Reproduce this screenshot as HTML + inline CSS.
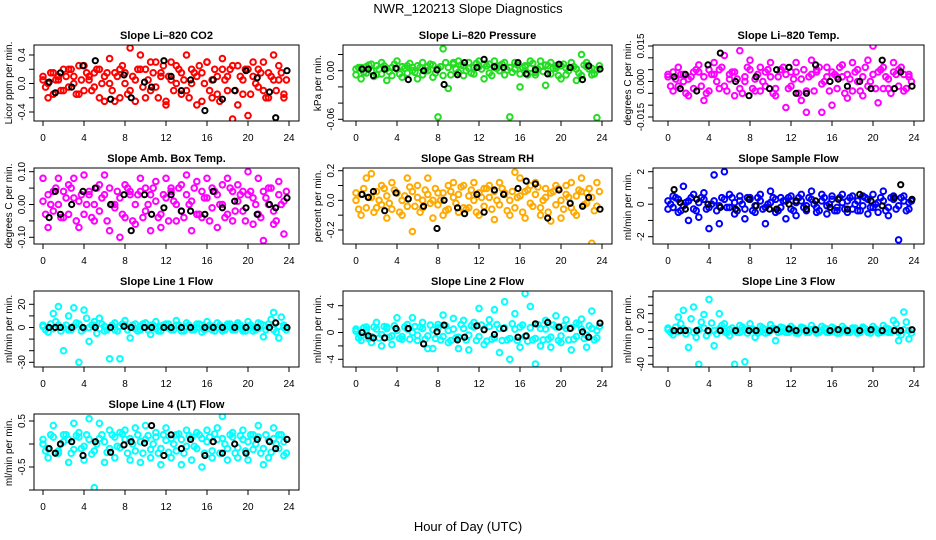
<!DOCTYPE html>
<html><head><meta charset="utf-8"><style>
html,body{margin:0;padding:0;background:#fff;}
svg{display:block;font-family:"Liberation Sans",Arial,sans-serif;}
</style></head><body>
<svg id="chart" width="936" height="540" viewBox="0 0 936 540" xmlns="http://www.w3.org/2000/svg">
<rect x="0" y="0" width="936" height="540" fill="#fff"/>
<text x="468" y="13" text-anchor="middle" font-size="13">NWR_120213  Slope Diagnostics</text>
<text x="468" y="531" text-anchor="middle" font-size="13">Hour of Day (UTC)</text>
</svg>
<script>
// shared x data
const hours = [0,0.5,1,1.5,2,2.5,3,3.5,4,4.5,5,5.5,6,6.5,7,7.5,8,8.5,9,9.5,10,10.5,11,11.5,12,12.5,13,13.5,14,14.5,15,15.5,16,16.5,17,17.5,18,18.5,19,19.5,20,20.5,21,21.5,22,22.5,23,23.5];
const hoursMid = [0.25,0.75,1.25,1.75,2.25,2.75,3.25,3.75,4.25,4.75,5.25,5.75,6.25,6.75,7.25,7.75,8.25,8.75,9.25,9.75,10.25,10.75,11.25,11.75,12.25,12.75,13.25,13.75,14.25,14.75,15.25,15.75,16.25,16.75,17.25,17.75,18.25,18.75,19.25,19.75,20.25,20.75,21.25,21.75,22.25,22.75,23.25,23.75];
const blackHours = [0.6,1.2,1.7,2.8,3.9,5.1,6.6,7.9,8.6,9.9,10.6,11.8,12.5,13.5,14.4,15.8,16.6,17.5,18.7,19.8,20.9,22.1,22.7,23.8];
const xTicks = [0,4,8,12,16,20,24];

const co2A = [0.05,-0.2,0.15,0.1,-0.1,0.2,0.0,-0.15,0.25,0.1,-0.05,0.2,-0.25,0.35,0.15,-0.2,0.0,0.5,-0.25,0.4,0.2,-0.1,0.3,0.1,-0.25,0.3,0.0,-0.15,0.4,0.2,-0.3,0.15,0.3,-0.2,0.1,0.35,-0.1,-0.5,0.25,0.05,-0.45,0.3,0.2,-0.1,0.15,0.4,0.05,-0.2];
const co2B = [0.1,0.0,-0.15,0.05,0.2,-0.05,0.1,0.25,-0.1,0.05,0.15,-0.2,0.1,0.0,-0.25,0.2,0.15,-0.1,0.05,0.2,-0.2,0.3,-0.05,0.15,-0.3,0.05,0.25,0.15,-0.1,0.0,0.1,-0.25,0.3,0.05,-0.15,0.2,0.1,0.25,-0.3,-0.15,0.2,0.1,-0.05,0.3,-0.2,0.05,0.25,-0.15];
const co2C = [-0.05,0.15,0.05,-0.1,0.1,0.2,-0.15,0.05,0.15,-0.1,0.2,0.0,0.15,-0.1,0.1,0.25,-0.15,0.1,0.2,-0.05,0.05,0.15,-0.2,0.25,0.1,-0.1,0.2,0.05,-0.2,0.15,0.25,0.0,-0.1,0.2,-0.25,0.05,0.2,-0.1,0.1,0.2,-0.15,0.0,0.15,-0.2,0.1,-0.1,0.15,0.05];
const co2K = [0.02,-0.13,0.15,-0.05,0.25,0.32,-0.22,0.12,-0.2,0.02,-0.05,0.32,0.1,-0.1,0.05,-0.38,0.05,-0.22,-0.1,0.18,0.08,-0.12,-0.48,0.18];

const presA = [0.002,-0.01,0.005,0.008,-0.005,0.01,-0.012,0.004,0.012,-0.008,0.006,0.0,-0.01,0.01,0.005,-0.008,-0.057,0.027,-0.022,0.01,0.012,-0.006,0.01,0.004,0.012,-0.01,0.008,0.012,0.0,0.01,-0.057,0.01,-0.02,0.005,0.012,-0.005,0.012,-0.018,0.01,0.006,-0.01,0.003,0.01,-0.012,0.02,0.01,-0.005,-0.058];
const presB = [-0.005,0.004,-0.003,0.0,0.006,-0.004,0.003,-0.006,0.002,0.005,-0.003,0.004,0.006,-0.005,0.0,0.007,0.003,-0.006,0.004,0.008,-0.002,0.006,0.003,-0.004,0.005,0.008,-0.003,0.004,0.006,-0.005,0.004,0.002,-0.004,0.006,0.003,-0.002,0.005,0.007,-0.004,0.003,0.006,-0.005,0.004,0.002,-0.006,0.005,0.003,0.001];
const presC = [0.004,-0.002,0.007,-0.007,0.002,0.006,-0.001,0.008,-0.004,0.003,0.009,-0.002,0.004,0.0,0.008,-0.003,0.005,0.01,-0.005,0.002,0.007,0.0,-0.003,0.009,0.002,0.006,-0.006,0.003,0.008,0.001,-0.002,0.007,0.004,-0.005,0.009,0.002,-0.001,0.006,0.003,-0.006,0.008,0.0,0.005,-0.003,0.007,0.002,-0.004,0.006];
const presK = [0.002,0.002,-0.006,0.002,0.003,-0.011,0.0,0.001,-0.017,-0.005,0.01,0.004,0.014,0.005,0.004,0.01,-0.004,0.001,-0.004,0.008,0.004,-0.011,0.006,0.002];

const tempA = [0.003,-0.004,0.006,0.0,-0.006,0.004,0.007,-0.008,0.005,0.008,-0.003,0.011,0.003,-0.006,0.013,0.0,0.009,-0.004,0.006,-0.002,0.008,-0.006,0.005,-0.011,0.004,0.008,-0.008,-0.013,0.009,0.004,-0.013,0.006,-0.01,0.002,0.007,-0.007,0.008,0.0,-0.006,0.009,0.015,-0.009,0.006,-0.003,0.008,0.005,-0.004,0.003];
const tempB = [0.002,0.004,-0.002,0.003,0.001,-0.003,0.004,0.002,-0.004,0.003,0.005,-0.002,0.001,0.004,-0.003,0.002,0.005,0.001,-0.004,0.004,0.002,-0.003,0.005,0.003,-0.002,0.004,0.001,-0.004,0.003,0.005,-0.001,0.002,0.004,-0.003,0.002,0.003,-0.004,0.005,0.002,-0.002,0.003,0.004,-0.003,0.001,0.004,-0.002,0.003,0.002];
const tempC = [-0.002,0.001,0.003,-0.005,0.002,0.005,-0.002,-0.005,0.003,0.0,0.006,-0.004,0.004,0.001,-0.005,0.006,-0.003,0.003,0.0,0.005,-0.005,0.002,0.006,-0.003,0.001,-0.005,0.005,0.002,-0.004,0.006,0.0,-0.004,0.003,0.006,-0.005,0.001,0.004,-0.004,0.006,0.0,-0.003,0.005,0.002,-0.005,0.003,0.006,-0.003,0.0];
const tempK = [0.002,-0.003,0.003,-0.004,0.007,0.012,0.0,-0.006,0.002,-0.003,0.005,0.006,-0.005,-0.005,0.007,0.0,0.001,-0.002,0.0,-0.003,0.009,-0.003,0.004,-0.002];

const ambA = [0.08,-0.07,0.04,0.08,-0.04,0.06,0.08,-0.07,0.09,0.03,-0.05,0.06,0.09,-0.08,0.0,-0.1,0.06,0.04,-0.06,0.08,0.05,-0.08,0.07,-0.07,0.08,0.05,-0.05,0.06,0.09,-0.08,0.07,-0.04,0.08,0.05,-0.07,0.06,0.08,-0.05,0.06,0.04,0.1,-0.06,0.08,-0.11,0.05,-0.06,0.07,-0.09];
const ambB = [0.01,0.03,-0.02,0.0,0.04,-0.03,0.02,0.01,-0.03,0.04,0.0,-0.02,0.03,0.05,-0.01,0.02,-0.04,0.03,0.0,0.04,-0.02,0.03,0.01,-0.03,0.02,0.04,0.0,-0.02,0.03,0.01,-0.03,0.04,0.02,-0.01,0.03,0.0,-0.03,0.04,0.01,-0.02,0.03,0.02,-0.03,0.04,0.0,-0.02,0.03,0.01];
const ambC = [-0.03,0.0,0.05,-0.04,0.02,0.05,-0.05,0.03,0.0,-0.04,0.05,0.02,-0.05,0.0,0.04,-0.03,0.05,-0.05,0.03,-0.04,0.0,0.05,-0.04,0.03,-0.05,0.01,0.05,-0.04,0.0,0.05,-0.03,0.02,-0.05,0.04,0.0,-0.04,0.05,-0.02,0.03,-0.05,0.04,0.0,-0.04,0.02,0.05,-0.05,0.0,0.04];
const ambK = [-0.04,0.04,-0.03,0.0,0.04,0.05,0.0,0.03,-0.08,0.03,-0.03,-0.01,0.03,-0.02,-0.02,-0.03,0.04,-0.01,0.01,-0.01,-0.03,0.0,-0.01,0.02];

const rhA = [0.05,-0.1,0.15,0.18,-0.05,0.1,-0.12,0.12,0.05,-0.1,0.15,-0.21,0.1,0.0,0.15,-0.12,0.05,-0.1,0.1,0.12,-0.08,0.1,-0.05,0.12,-0.1,0.08,0.1,-0.13,0.12,0.05,-0.1,0.19,0.15,-0.12,0.1,0.12,-0.1,0.08,-0.14,0.1,-0.12,0.1,0.12,-0.1,0.15,0.05,-0.29,0.12];
const rhB = [0.0,0.04,-0.05,0.02,0.06,-0.03,0.03,-0.06,0.05,0.0,-0.04,0.06,0.02,-0.05,0.04,0.0,-0.03,0.05,-0.06,0.02,0.04,-0.05,0.03,0.0,0.05,-0.04,0.02,0.06,-0.03,0.04,0.0,-0.05,0.03,0.06,-0.02,0.04,-0.05,0.02,0.05,-0.03,0.0,0.04,-0.05,0.03,0.06,-0.02,0.02,-0.04];
const rhC = [-0.06,0.08,0.02,-0.08,0.0,0.08,-0.02,0.07,-0.08,0.03,0.09,-0.04,-0.08,0.07,-0.02,0.08,0.0,-0.07,0.06,-0.02,0.09,-0.06,0.07,-0.08,0.02,0.08,-0.06,0.0,0.08,-0.07,0.06,0.02,-0.08,0.07,-0.04,0.09,0.0,-0.08,0.06,0.08,-0.06,0.02,-0.08,0.07,-0.03,0.08,-0.07,0.06];
const rhK = [0.04,0.02,0.06,-0.07,0.05,0.01,-0.04,-0.19,0.0,-0.05,-0.09,0.04,-0.08,0.07,0.04,0.08,0.13,0.11,-0.12,0.07,-0.02,-0.04,0.02,-0.06];

const sfA = [-0.3,0.5,-0.5,1.1,-1.0,0.6,-0.8,0.7,-1.5,1.8,-1.2,2.0,0.6,-0.6,0.5,-0.9,0.4,-0.5,0.6,-1.2,0.8,-0.5,0.4,-0.9,0.5,-0.7,0.6,-0.4,0.8,-0.5,0.6,-0.6,0.5,-0.4,0.6,-0.5,0.5,-0.4,0.5,-0.6,0.6,-0.5,0.8,-0.7,0.5,-2.2,0.5,-0.3];
const sfB = [0.2,-0.2,0.3,-0.1,0.2,-0.3,0.1,0.3,-0.2,0.2,-0.1,0.3,-0.2,0.1,0.2,-0.3,0.3,-0.1,0.2,-0.2,0.1,0.3,-0.2,0.2,-0.3,0.1,0.2,-0.1,0.3,-0.2,0.2,-0.1,0.3,-0.2,0.1,0.2,-0.3,0.2,-0.1,0.3,-0.2,0.1,0.2,-0.2,0.3,-0.1,0.2,0.1];
const sfC = [0.0,0.4,-0.4,0.1,0.4,-0.4,0.4,-0.3,0.0,-0.4,0.4,-0.2,0.4,-0.4,0.0,0.4,-0.4,0.4,-0.3,0.0,0.4,-0.4,0.2,0.4,-0.4,0.4,-0.2,0.4,0.0,-0.4,0.4,0.0,-0.4,0.4,-0.3,0.4,0.0,-0.4,0.4,-0.2,0.0,0.4,-0.4,0.4,-0.3,0.4,-0.4,0.2];
const sfK = [0.9,0.1,-0.3,0.3,0.0,-0.2,-0.3,0.3,-0.1,-0.3,-0.3,0.0,0.2,-0.3,0.2,-0.2,0.3,-0.3,0.6,0.2,-0.1,0.4,1.2,0.3];

const l1A = [2,-4,12,18,-20,10,17,-30,15,-12,5,8,-3,-27,4,-27,6,-9,3,-2,4,-6,5,-3,3,-2,6,-3,4,-2,3,-4,5,-2,4,-3,3,-2,4,-3,5,-3,4,-8,3,13,-9,2];
const l1B = [1,0,-1,2,0,-2,1,3,-1,0,2,-1,1,0,-2,1,2,0,-1,1,0,2,-1,1,0,-1,2,0,1,-1,0,2,-1,1,0,-2,1,0,2,-1,1,0,-1,2,0,-2,1,0];
const l1C = [-2,3,5,-3,2,-2,4,-3,8,2,-5,3,-2,2,-3,3,-2,2,-3,3,-2,2,-3,2,3,-2,2,-3,2,-2,3,-2,2,-3,2,-2,3,-2,2,-3,2,-2,3,-2,7,-4,9,-2];
const l1K = [0,0,0,0,0,0,0,1,0,0,0,0,0,0,0,0,0,0,0,0,0,0,4,0];

const l2A = [0.5,-1.2,0.8,-1.5,1.5,-2.0,0.8,-1.8,2.2,-1.0,1.2,2.2,-1.2,1.5,-2.4,-2.4,1.2,2.6,-1.5,2.1,-2.4,1.8,-2.6,1.5,3.6,-1.8,1.9,3.4,-3.0,4.6,-4.0,2.8,-2.2,5.8,3.9,-4.7,-2.0,1.8,-2.2,2.5,-1.5,1.9,-2.6,1.4,2.0,-2.2,3.2,-0.8];
const l2B = [0.2,-0.5,0.4,-0.6,0.5,-0.3,0.6,-0.5,0.3,-0.6,0.5,0.0,-0.4,0.6,-0.5,0.4,0.7,-0.6,0.3,0.5,-0.7,0.6,-0.4,0.8,-0.6,0.5,0.9,-0.8,0.6,0.7,-0.9,0.5,0.8,-0.6,0.7,-0.9,0.6,0.5,-0.7,0.8,-0.5,0.6,0.7,-0.6,0.5,-0.4,0.6,0.3];
const l2C = [-0.8,0.7,-0.9,0.8,-0.8,0.9,-0.7,1.0,-0.9,0.8,-1.0,0.9,0.8,-1.0,1.1,-0.9,-1.1,1.0,-1.2,-0.8,1.2,-1.1,1.0,-1.2,1.1,-1.3,-1.0,1.2,-1.2,-1.1,1.3,-1.2,1.1,-1.3,-1.1,1.2,-1.1,-1.0,1.1,-1.2,1.0,-1.1,-1.0,1.2,-0.9,1.0,-1.1,0.9];
const l2K = [0.0,-0.5,-0.8,-0.8,0.6,0.6,-1.7,0.1,1.1,-1.1,-0.7,1.0,0.4,-0.3,0.6,-0.7,-0.5,1.3,1.5,0.8,0.6,0.1,-0.7,1.4];

const l3A = [3,-5,16,24,-20,28,-40,19,37,-18,20,8,-6,-40,6,-37,8,-8,5,-3,7,-12,4,-2,5,-3,4,-2,6,-3,5,-2,4,-3,5,-2,3,-3,4,-2,5,-3,6,-2,12,-12,22,-10];
const l3B = [1,0,-1,2,0,-2,1,3,-1,0,2,-1,1,0,-2,1,2,0,-1,1,0,2,-1,1,0,-1,2,0,1,-1,0,2,-1,1,0,-2,1,0,2,-1,1,0,-1,2,0,-2,1,0];
const l3C = [-2,4,8,-4,14,-8,10,-6,9,-4,6,-3,3,-2,4,-3,2,-3,3,-2,3,-2,3,-2,2,-3,3,-2,2,-2,3,-2,2,-3,2,-2,3,-2,2,-3,2,-2,3,-2,8,-5,10,-3];
const l3K = [0,0,0,0,0,0,0,0,0,0,1,2,0,0,1,0,1,0,0,1,0,0,0,1];

const l4A = [0.0,-0.3,0.4,-0.2,0.2,-0.4,0.45,0.25,-0.35,0.55,-0.95,0.45,-0.4,0.3,-0.3,0.25,0.3,-0.35,0.35,-0.4,0.4,-0.3,0.25,-0.45,0.35,-0.3,0.2,-0.45,0.3,-0.35,0.25,-0.5,0.3,-0.3,0.35,0.6,-0.35,0.25,-0.3,0.3,-0.35,0.2,0.4,-0.45,-0.3,0.35,0.2,-0.25];
const l4B = [0.1,-0.1,0.15,-0.15,0.05,0.1,-0.12,0.15,-0.05,0.1,-0.15,0.12,0.05,-0.1,0.15,-0.08,0.1,0.12,-0.15,0.05,0.1,-0.12,0.15,-0.1,0.08,0.12,-0.15,0.1,-0.05,0.15,-0.1,0.12,0.05,-0.15,0.1,0.12,-0.1,0.15,-0.08,0.1,0.05,-0.12,0.15,-0.1,0.08,0.12,-0.1,0.05];
const l4C = [-0.15,0.2,-0.2,0.0,0.2,-0.2,0.18,-0.1,0.2,-0.22,0.0,0.2,-0.18,0.2,-0.05,0.22,-0.2,0.0,0.2,-0.2,0.18,0.0,-0.2,0.2,-0.18,0.0,0.22,-0.2,0.18,-0.05,0.2,-0.2,0.15,0.22,-0.2,0.0,0.2,-0.2,0.18,-0.15,0.2,0.0,-0.2,0.2,-0.18,0.0,0.2,-0.2];
const l4K = [-0.1,-0.2,0.0,0.05,-0.25,0.05,-0.18,-0.02,0.05,0.02,0.4,-0.25,0.2,-0.1,0.1,-0.25,0.05,-0.2,0.0,-0.2,0.1,0.05,-0.1,0.1];

const panelTitles = ["Slope Li\u2013820 CO2","Slope Li\u2013820 Pressure","Slope Li\u2013820 Temp.","Slope Amb. Box Temp.","Slope Gas Stream RH","Slope Sample Flow","Slope Line 1 Flow","Slope Line 2 Flow","Slope Line 3 Flow","Slope Line 4 (LT) Flow"];
const yTitles = ["Licor ppm per min.","kPa per min.","degrees C per min.","degrees C per min.","percent per min.","ml/min per min.","ml/min per min.","ml/min per min.","ml/min per min.","ml/min per min."];
const yTickVals = [[-0.4,-0.2,0,0.2,0.4],[-0.06,-0.04,-0.02,0,0.02],[-0.015,-0.01,-0.005,0,0.005,0.01,0.015],[-0.1,-0.05,0,0.05,0.1],[-0.2,-0.1,0,0.1,0.2],[-2,-1,0,1,2],[-30,-20,-10,0,10,20],[-4,-2,0,2,4],[-40,-30,-20,-10,0,10,20,30,40],[-1,-0.5,0,0.5]];
const yTickLabels = [["-0.4","","0.0","","0.4"],["-0.06","","","0.00",""],["-0.015","","","0.000","","","0.015"],["-0.10","","0.00","","0.10"],["-0.2","","0.0","","0.2"],["-2","","0","","2"],["-30","","","0","","20"],["-4","","0","","4"],["-40","","","","0","","20","",""],["","-0.5","","0.5"]];
const seriesA = [co2A,presA,tempA,ambA,rhA,sfA,l1A,l2A,l3A,l4A];
const seriesB = [co2B,presB,tempB,ambB,rhB,sfB,l1B,l2B,l3B,l4B];
const seriesC = [co2C,presC,tempC,ambC,rhC,sfC,l1C,l2C,l3C,l4C];
const seriesK = [co2K,presK,tempK,ambK,rhK,sfK,l1K,l2K,l3K,l4K];
const colors = ["#ff0000","#22dd22","#ff00ff","#ff00ff","#ffaa00","#0000ff","#00ffff","#00ffff","#00ffff","#00ffff"];

// layout (pixel geometry, not data)
const colBox = [[34,299],[343,612],[653,924]];
const colX = [[43,289],[356,602],[668,914]];
const rowBox = [[45,121],[168,244],[291,367],[414,490]];
const yCal = [[0.4,55,-0.4,112],[0,70.7,-0.06,119.3],[0.015,46,-0.015,117],[0.1,171.7,-0.1,237.3],[0.2,170.7,-0.2,230],[2,171.7,-2,236.7],[20,304.3,-30,362.3],[4,305.7,-4,359.3],[20,313.7,-40,364.3],[0.5,421,-0.5,467]];

const NS = "http://www.w3.org/2000/svg";
const svg = document.getElementById('chart');
function mk(tag, attrs, parent){const e=document.createElementNS(NS,tag);for(const k in attrs)e.setAttribute(k,attrs[k]);(parent||svg).appendChild(e);return e;}

for (let p = 0; p < 10; p++) {
  const c = p % 3, r = Math.floor(p / 3);
  const [bx0, bx1] = colBox[c], [by0, by1] = rowBox[r];
  const [px0, px1] = colX[c];
  const cal = yCal[p];
  const xs = v => px0 + (v / 24) * (px1 - px0);
  const ys = v => cal[1] + (v - cal[0]) * (cal[3] - cal[1]) / (cal[2] - cal[0]);
  const g = mk('g', {});
  
  
  const clipId = 'clip' + p;
  const cp = mk('clipPath', {id: clipId}, g);
  mk('rect', {x: bx0, y: by0, width: bx1 - bx0, height: by1 - by0}, cp);
  const t = mk('text', {x: (bx0 + bx1) / 2, y: by0 - 6, 'text-anchor': 'middle', 'font-size': 11, 'font-weight': 'bold'}, g);
  t.textContent = panelTitles[p];
  
  
  const pts = mk('g', {'clip-path': 'url(#' + clipId + ')', fill: 'none'}, g);
  
  
  [[seriesA[p], hours], [seriesB[p], hours], [seriesC[p], hoursMid]].forEach(([arr, hx]) => {
    arr.forEach((v, i) => {
      const dot = mk('circle', {cx: xs(hx[i]).toFixed(1), cy: ys(v).toFixed(1), r: 2.8, stroke: colors[p], 'stroke-width': 2}, pts);
      
      
    });
  });
  seriesK[p].forEach((v, i) => {
    const dot = mk('circle', {cx: xs(blackHours[i]).toFixed(1), cy: ys(v).toFixed(1), r: 2.6, stroke: '#000', 'stroke-width': 2}, pts);
    
    
  });
  const box = mk('rect', {x: bx0, y: by0, width: bx1 - bx0, height: by1 - by0, fill: 'none', stroke: '#000', 'stroke-width': 1}, g);
  
  
  const xa = mk('g', {}, g);
  
  
  mk('line', {x1: xs(0), x2: xs(24), y1: by1, y2: by1, stroke: '#000'}, xa);
  xTicks.forEach(v => {
    mk('line', {x1: xs(v), x2: xs(v), y1: by1, y2: by1 + 5, stroke: '#000'}, xa);
    const tl = mk('text', {x: xs(v), y: by1 + 20, 'text-anchor': 'middle', 'font-size': 10}, xa);
    tl.textContent = v;
    
    
  });
  const ya = mk('g', {}, g);
  
  
  const tv = yTickVals[p];
  mk('line', {x1: bx0, x2: bx0, y1: ys(tv[0]), y2: ys(tv[tv.length - 1]), stroke: '#000'}, ya);
  tv.forEach((v, i) => {
    const y = ys(v);
    mk('line', {x1: bx0 - 5, x2: bx0, y1: y, y2: y, stroke: '#000'}, ya);
    if (yTickLabels[p][i]) {
      const tl = mk('text', {x: bx0 - 9, y: y, 'text-anchor': 'middle', 'font-size': 10, transform: 'rotate(-90 ' + (bx0 - 9) + ' ' + y + ')'}, ya);
      tl.textContent = yTickLabels[p][i];
      
      
    }
  });
  const cy = (by0 + by1) / 2;
  const yt = mk('text', {x: bx0 - 22, y: cy, 'text-anchor': 'middle', 'font-size': 10, transform: 'rotate(-90 ' + (bx0 - 22) + ' ' + cy + ')'}, g);
  yt.textContent = yTitles[p];
  
  
}
</script>
</body></html>
